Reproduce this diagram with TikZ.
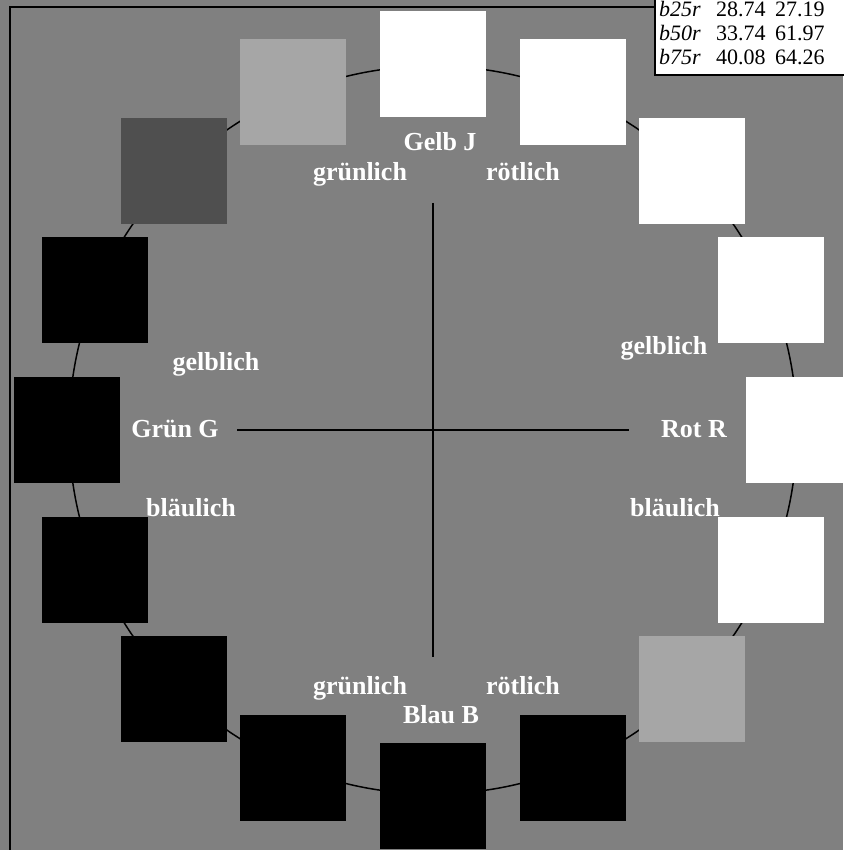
\documentclass[tikz,border=0pt]{standalone}
\usepackage{fontspec}
\setmainfont{Liberation Serif}
\usetikzlibrary{calc}
\definecolor{bggray}{RGB}{128,128,128}
\definecolor{lgray}{RGB}{166,166,166}
\definecolor{dgray}{RGB}{79,79,79}
\begin{document}
\begin{tikzpicture}[x=1pt,y=-1pt,
  sq/.style={minimum width=106pt,minimum height=106pt,inner sep=0pt,draw=none},
  lab/.style={anchor=base,text=white,font=\fontsize{26}{28}\selectfont\bfseries,inner sep=0pt},
  tab/.style={anchor=base west,text=black,font=\fontsize{22}{24}\selectfont,inner sep=0pt},
  thin/.style={line width=1.5pt,black}]
\useasboundingbox (0,0) rectangle (843,850);
\fill[bggray] (0,0) rectangle (843,850);
% frame
\coordinate (fa) at (10,850);
\coordinate (fb) at (10,7);
\coordinate (fc) at (655,7);
\draw[line width=2pt] (fa) -- (fb) -- (fc);
% table
\fill[white] (655,-2) rectangle (845,75);
\coordinate (ta) at (655,-2);
\coordinate (tb) at (655,75);
\coordinate (tc) at (845,75);
\draw[line width=1.5pt] (ta) -- (tb) -- (tc);
\node[tab] (r1a) at (659,17) {\itshape b25r};
\node[tab] (r1b) at (716,17) {28.74};
\node[tab] (r1c) at (775,17) {27.19};
\node[tab] (r2a) at (659,41) {\itshape b50r};
\node[tab] (r2b) at (716,41) {33.74};
\node[tab] (r2c) at (775,41) {61.97};
\node[tab] (r3a) at (659,65) {\itshape b75r};
\node[tab] (r3b) at (716,65) {40.08};
\node[tab] (r3c) at (775,65) {64.26};
% circle
\coordinate (c) at (433,430);
\draw[thin] (c) circle (364);
% cross
\coordinate (hl) at (237,430);
\coordinate (hr) at (629,430);
\coordinate (vt) at (433,203);
\coordinate (vb) at (433,657);
\draw[line width=1.8pt] (hl) -- (hr);
\draw[line width=1.8pt] (vt) -- (vb);
% squares, clockwise from top
\foreach \i/\col in {0/white,1/white,2/white,3/white,4/white,5/white,6/lgray,7/black,
                     8/black,9/black,10/black,11/black,12/black,13/black,14/dgray,15/lgray}{
  \pgfmathsetmacro{\ang}{-90+22.5*\i}
  \node[sq,fill=\col] (s\i) at ($(c)+(\ang:366)$) {};
}
% labels
\node[lab] (gj) at (440,151) {Gelb J};
\node[lab] (gt) at (360,181) {grünlich};
\node[lab] (rt) at (523,181) {rötlich};
\node[lab] (gl) at (216,370) {gelblich};
\node[lab] (gr) at (664,354) {gelblich};
\node[lab] (gg) at (175,437) {Grün G};
\node[lab] (rr) at (694,437) {Rot R};
\node[lab] (bl) at (191,516) {bläulich};
\node[lab] (br) at (675,516) {bläulich};
\node[lab] (gb) at (360,694) {grünlich};
\node[lab] (rb) at (523,694) {rötlich};
\node[lab] (bb) at (441,723) {Blau B};
\end{tikzpicture}
\end{document}
